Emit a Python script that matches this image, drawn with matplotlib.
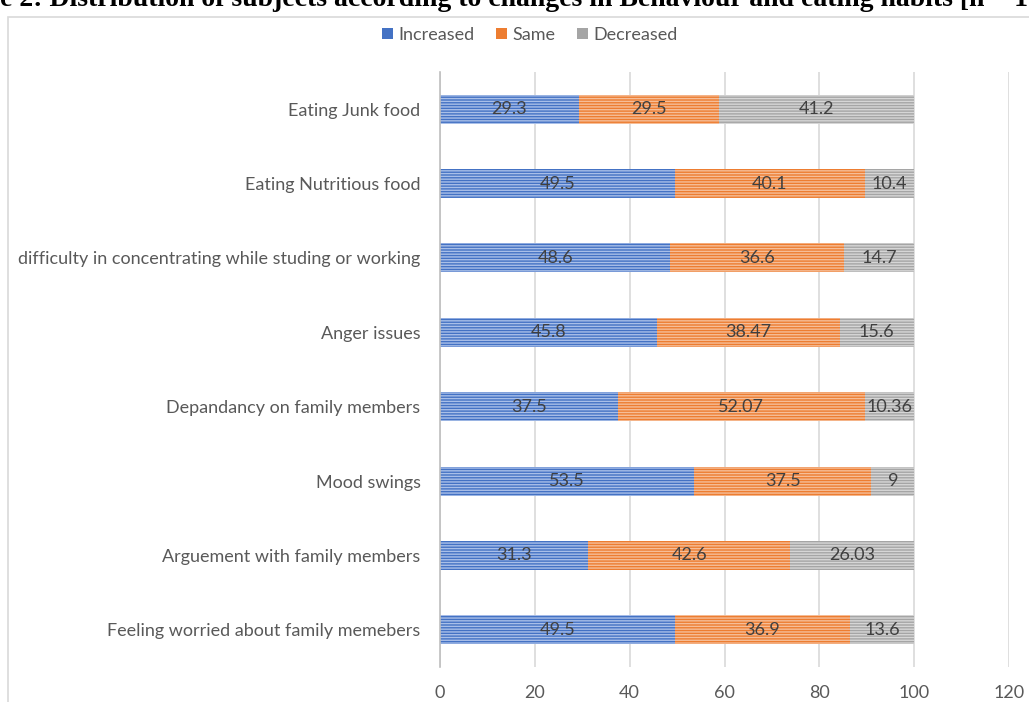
import matplotlib
matplotlib.use("Agg")
import matplotlib.pyplot as plt
from matplotlib.patches import Rectangle
import numpy as np

categories = [
    "Feeling worried about family memebers",
    "Arguement with family members",
    "Mood swings",
    "Depandancy on family members",
    "Anger issues",
    "difficulty in concentrating while studing or working",
    "Eating Nutritious food",
    "Eating Junk food",
]
increased = [49.5, 31.3, 53.5, 37.5, 45.8, 48.6, 49.5, 29.3]
same = [36.9, 42.6, 37.5, 52.07, 38.47, 36.6, 40.1, 29.5]
decreased = [13.6, 26.03, 9, 10.36, 15.6, 14.7, 10.4, 41.2]
inc_labels = ["49.5", "31.3", "53.5", "37.5", "45.8", "48.6", "49.5", "29.3"]
same_labels = ["36.9", "42.6", "37.5", "52.07", "38.47", "36.6", "40.1", "29.5"]
dec_labels = ["13.6", "26.03", "9", "10.36", "15.6", "14.7", "10.4", "41.2"]
series_names = ["Increased", "Same", "Decreased"]
xticks = [0, 20, 40, 60, 80, 100, 120]

W, H = 1029, 702
fig = plt.figure(figsize=(W / 100, H / 100), dpi=100)
fig.patch.set_facecolor("white")

# chart frame
fig.patches.append(Rectangle((8 / W, -0.1), 1.2, 1 - 17 / H + 0.1, transform=fig.transFigure,
                             fill=False, edgecolor="#d9d9d9", linewidth=1.2))

# cropped title
title = "Figure 2: Distribution of subjects according to changes in Behaviour and eating habits [n = 1000]"
tfont = dict(family="Liberation Serif", fontsize=20, fontweight="bold")
tmp = fig.text(0, 0, "Figur", **tfont)
fig.canvas.draw()
wpre = tmp.get_window_extent().width
tmp.remove()
fig.text(-wpre / W, 1 - 5.5 / H, title, ha="left", va="baseline", color="black", **tfont)

ax = fig.add_axes([440 / W, 1 - 667 / H, (1009 - 440) / W, (667 - 72) / H])
y = np.arange(len(categories))
colors = ["#4472C4", "#ED7D31", "#A5A5A5"]
hatch_colors = ["#A9BFE8", "#F6BE98", "#D6D6D6"]
plt.rcParams["hatch.linewidth"] = 1.0

FS = 13
left = np.zeros(len(categories))
data = [increased, same, decreased]
labels = [inc_labels, same_labels, dec_labels]
for vals, lab, c, hc, name in zip(data, labels, colors, hatch_colors, series_names):
    vals = np.array(vals, dtype=float)
    ax.barh(y, vals, left=left, height=0.39, color=c, edgecolor="none", zorder=2, label=name)
    ax.barh(y, vals, left=left, height=0.39, color="none", edgecolor=hc, hatch="------",
            linewidth=0, zorder=3)
    for yi, l, v, t in zip(y, left, vals, lab):
        ax.text(l + v / 2, yi, t, ha="center", va="center", fontsize=FS,
                color="#404040", family="Lato", zorder=4)
    left = left + vals

ax.set_xlim(0, 120)
ax.set_ylim(-0.5, len(categories) - 0.5)
ax.set_xticks(xticks)
ax.set_xticklabels([str(t) for t in xticks])
ax.set_yticks(y)
ax.set_yticklabels(categories)
ax.tick_params(axis="both", length=0, labelsize=FS, labelcolor="#595959")
ax.tick_params(axis="y", pad=14)
ax.tick_params(axis="x", pad=13)
for lbl in ax.get_xticklabels() + ax.get_yticklabels():
    lbl.set_family("Lato")
ax.grid(axis="x", color="#d9d9d9", linewidth=1.2, zorder=0)
ax.set_axisbelow(True)
for s in ["top", "right", "bottom"]:
    ax.spines[s].set_visible(False)
ax.spines["left"].set_color("#bfbfbf")
ax.spines["left"].set_linewidth(1.2)
ax.spines["left"].set_zorder(5)

handles, hl = ax.get_legend_handles_labels()
fig.legend(handles, hl, loc="center", bbox_to_anchor=(530 / W, 1 - 35 / H), ncol=3,
           frameon=False, prop=dict(family="Lato", size=FS), labelcolor="#595959",
           handlelength=0.6, handleheight=0.6, handletextpad=0.3, columnspacing=1.2)

fig.savefig("out.png", dpi=100, facecolor="white")
